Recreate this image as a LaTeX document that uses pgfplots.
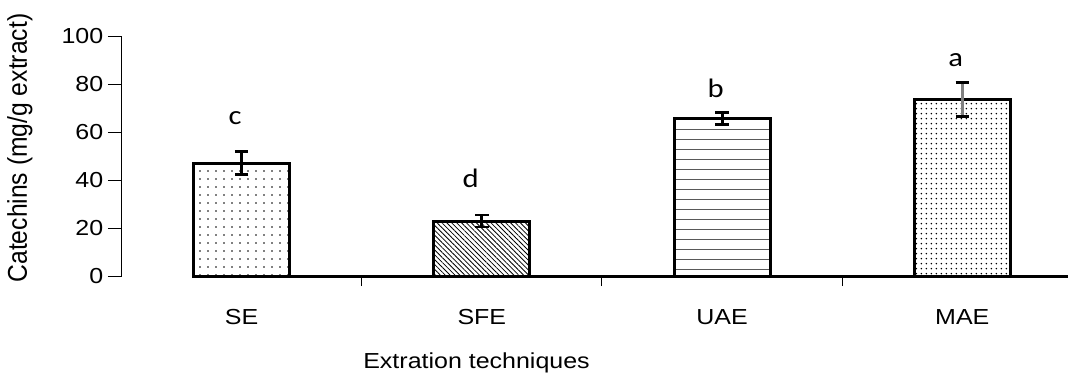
\documentclass[border=0pt]{standalone}
\usepackage{graphicx}
\usepackage{pgfplots}
\pgfplotsset{compat=1.18}
\usepackage{fontspec}
\setmainfont{Liberation Sans}
\newfontfamily\calfont{Carlito}
\usetikzlibrary{patterns.meta}
\newcommand\hs[1]{\scalebox{1.15}[1]{#1}}
\newcommand\tl[1]{{\fontsize{16.3}{19}\selectfont\scalebox{1.15}[1]{#1}}}
\begin{document}
\begin{tikzpicture}
\useasboundingbox (-91.5pt,-77.25pt) rectangle (709.5pt,207pt);
\begin{axis}[
  scale only axis, width=709.5pt, height=180pt,
  xmin=-0.498, xmax=3.44, ymin=0, ymax=100,
  axis lines*=left,
  axis line style={-},
  x axis line style={draw=none},
  y axis line style={line width=0.75pt},
  ytick={0,20,40,60,80,100},
  yticklabels={\tl{0},\tl{20},\tl{40},\tl{60},\tl{80},\tl{100}},
  xtick={0,1,2,3},
  xticklabels={\tl{SE},\tl{SFE},\tl{UAE},\tl{MAE}},
  minor xtick={-0.5,0.5,1.5,2.5},
  tick align=outside,
  major tick length=10.5pt, minor tick length=7.5pt,
  major x tick style={draw=none},
  tick style={black, line width=0.75pt},
  xticklabel style={yshift=-11pt},
  ylabel={\scalebox{1}[1.1]{Catechins (mg/g extract)}},
  ylabel style={at={(axis description cs:-0.108,0.533)}, anchor=center, font=\fontsize{18.5}{22}\selectfont},
  xlabel={\tl{Extration techniques}},
  xlabel style={at={(axis description cs:0.2548,0)}, anchor=base west, inner sep=0pt, yshift=-69pt},
  clip=false,
]
\addplot[ybar, bar width=0.4, bar shift=0pt, draw=black, line width=2.25pt,
  pattern={Dots[distance=6pt, radius=0.7pt]}, pattern color=black,
  error bars/.cd, y dir=both, y explicit,
  error bar style={line width=2.25pt, black},
  error mark options={rotate=90, line width=2pt, mark size=5pt, black}]
  coordinates {(0,47) +- (0,4.8)};
\addplot[ybar, bar width=0.4, bar shift=0pt, draw=black, line width=2.25pt,
  pattern={Lines[angle=-45, distance=2.6pt, line width=0.6pt]}, pattern color=black,
  error bars/.cd, y dir=both, y explicit,
  error bar style={line width=2.25pt, black},
  error mark options={rotate=90, line width=2pt, mark size=5pt, black}]
  coordinates {(1,22.9) +- (0,2.5)};
\addplot[ybar, bar width=0.4, bar shift=0pt, draw=black, line width=2.25pt,
  pattern={Lines[angle=0, distance=7.5pt, line width=0.7pt]}, pattern color=black!65,
  error bars/.cd, y dir=both, y explicit,
  error bar style={line width=2.25pt, black},
  error mark options={rotate=90, line width=2pt, mark size=5pt, black}]
  coordinates {(2,65.5) +- (0,2.5)};
\addplot[ybar, bar width=0.4, bar shift=0pt, draw=black, line width=2.25pt,
  pattern={Dots[distance=4pt, radius=0.65pt]}, pattern color=black,
  error bars/.cd, y dir=both, y explicit,
  error bar style={line width=2.25pt, gray},
  error mark options={rotate=90, line width=2pt, mark size=5pt, black}]
  coordinates {(3,73.5) +- (0,7)};
\addplot[draw=none, nodes near coords={\hs{\pgfplotspointmeta}}, point meta=explicit symbolic,
  every node near coord/.append style={anchor=base, inner sep=0pt, font=\calfont\fontsize{20}{24}\selectfont, black}]
  table[meta=lab] {
x y lab
-0.027 63.3 c
0.953 36.7 d
1.973 74.2 b
2.973 87.5 a
};
\draw[line width=2.25pt] (rel axis cs:0,0) ++(-10.5pt,0) -- (rel axis cs:1,0);
\end{axis}
\end{tikzpicture}
\end{document}
